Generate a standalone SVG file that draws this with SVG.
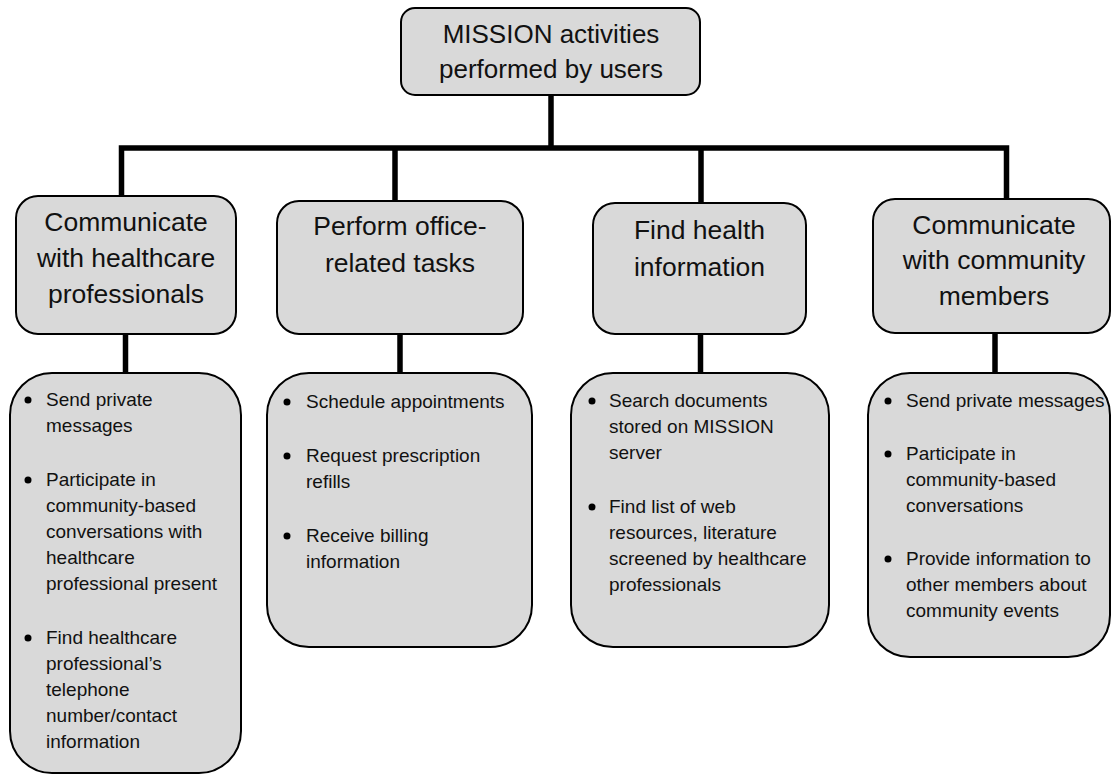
<svg xmlns="http://www.w3.org/2000/svg" width="1113" height="774" viewBox="0 0 1113 774">
<style>
.box{fill:#d9d9d9;stroke:#000;stroke-width:2}
.conn{fill:none;stroke:#000;stroke-width:5.5;stroke-linejoin:miter;stroke-linecap:butt}
.t{font-family:"Liberation Sans",Arial,sans-serif;fill:#111}
.h{font-size:26.5px;text-anchor:middle}
.top{font-size:26px;text-anchor:middle}
.b{font-size:19px}
.dot{fill:#000}
</style>
<rect width="1113" height="774" fill="#fff"/>
<g id="connectors">
<path class="conn" d="M551,95 V148"/>
<path class="conn" d="M121.5,196 V148 H1006.5 V199"/>
<path class="conn" d="M395,148 V201"/>
<path class="conn" d="M701,148 V203"/>
<path class="conn" d="M125.5,334 V373"/>
<path class="conn" d="M400,334 V373"/>
<path class="conn" d="M700.5,334 V373"/>
<path class="conn" d="M995,333 V373"/>
</g>
<g id="root">
<rect class="box" x="401" y="8" width="299" height="87" rx="14"/>
<text class="t top" x="551" y="43">MISSION activities</text>
<text class="t top" x="551" y="78">performed by users</text>
</g>
<g id="n1">
<rect class="box" x="16" y="196" width="220" height="138" rx="22"/>
<text class="t h" x="126" y="231">Communicate</text>
<text class="t h" x="126" y="267">with healthcare</text>
<text class="t h" x="126" y="303">professionals</text>
</g>
<g id="n2">
<rect class="box" x="277" y="201" width="246" height="133" rx="22"/>
<text class="t h" x="400" y="235">Perform office-</text>
<text class="t h" x="400" y="272">related tasks</text>
</g>
<g id="n3">
<rect class="box" x="593" y="203" width="213" height="131" rx="22"/>
<text class="t h" x="699.5" y="239">Find health</text>
<text class="t h" x="699.5" y="276">information</text>
</g>
<g id="n4">
<rect class="box" x="873" y="199" width="237" height="134" rx="22"/>
<text class="t h" x="994" y="234">Communicate</text>
<text class="t h" x="994" y="269">with community</text>
<text class="t h" x="994" y="305">members</text>
</g>
<g id="l1">
<rect class="box" x="10" y="373" width="231" height="400" rx="42"/>
<circle class="dot" cx="28" cy="400" r="3.5"/>
<text class="t b" x="46" y="406">Send private</text>
<text class="t b" x="46" y="432">messages</text>
<circle class="dot" cx="28" cy="480" r="3.5"/>
<text class="t b" x="46" y="486">Participate in</text>
<text class="t b" x="46" y="512">community-based</text>
<text class="t b" x="46" y="538">conversations with</text>
<text class="t b" x="46" y="564">healthcare</text>
<text class="t b" x="46" y="590">professional present</text>
<circle class="dot" cx="28" cy="638" r="3.5"/>
<text class="t b" x="46" y="644">Find healthcare</text>
<text class="t b" x="46" y="670">professional’s</text>
<text class="t b" x="46" y="696">telephone</text>
<text class="t b" x="46" y="722">number/contact</text>
<text class="t b" x="46" y="748">information</text>
</g>
<g id="l2">
<rect class="box" x="267" y="373" width="265" height="274" rx="42"/>
<circle class="dot" cx="287" cy="402" r="3.5"/>
<text class="t b" x="306" y="408">Schedule appointments</text>
<circle class="dot" cx="287" cy="456" r="3.5"/>
<text class="t b" x="306" y="462">Request prescription</text>
<text class="t b" x="306" y="488">refills</text>
<circle class="dot" cx="287" cy="536" r="3.5"/>
<text class="t b" x="306" y="542">Receive billing</text>
<text class="t b" x="306" y="568">information</text>
</g>
<g id="l3">
<rect class="box" x="571" y="373" width="258" height="274" rx="42"/>
<circle class="dot" cx="592" cy="401" r="3.5"/>
<text class="t b" x="609" y="407">Search documents</text>
<text class="t b" x="609" y="433">stored on MISSION</text>
<text class="t b" x="609" y="459">server</text>
<circle class="dot" cx="592" cy="507" r="3.5"/>
<text class="t b" x="609" y="513">Find list of web</text>
<text class="t b" x="609" y="539">resources, literature</text>
<text class="t b" x="609" y="565">screened by healthcare</text>
<text class="t b" x="609" y="591">professionals</text>
</g>
<g id="l4">
<rect class="box" x="868" y="373" width="242" height="284" rx="42"/>
<circle class="dot" cx="888" cy="401" r="3.5"/>
<text class="t b" x="906" y="407">Send private messages</text>
<circle class="dot" cx="888" cy="454" r="3.5"/>
<text class="t b" x="906" y="460">Participate in</text>
<text class="t b" x="906" y="486">community-based</text>
<text class="t b" x="906" y="512">conversations</text>
<circle class="dot" cx="888" cy="559" r="3.5"/>
<text class="t b" x="906" y="565">Provide information to</text>
<text class="t b" x="906" y="591">other members about</text>
<text class="t b" x="906" y="617">community events</text>
</g>
</svg>
